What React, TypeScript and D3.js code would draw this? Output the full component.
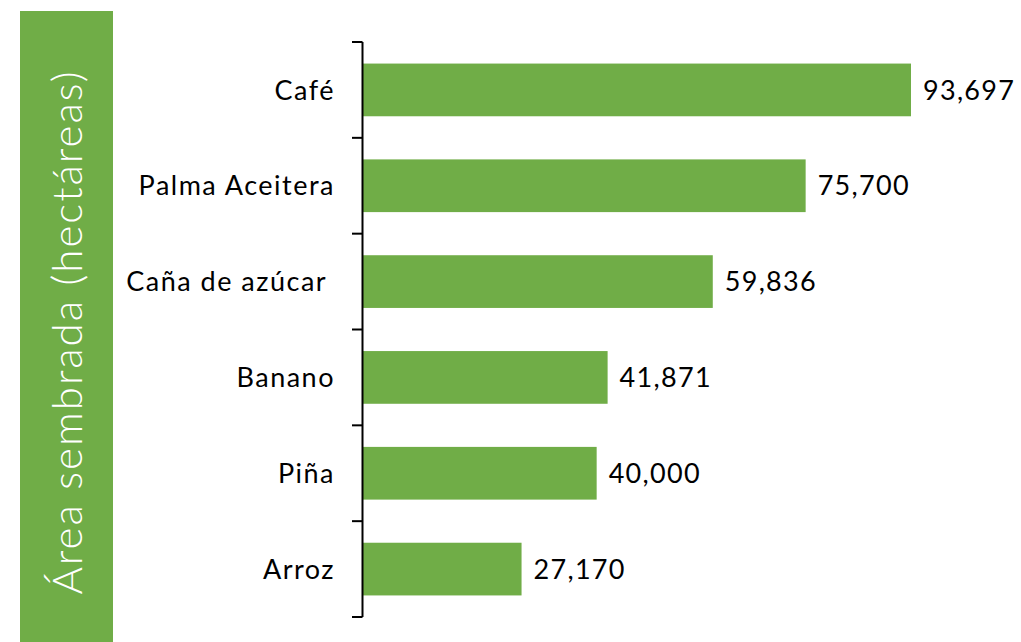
import React from "react";
import * as d3 from "d3";

const categories = ["Café", "Palma Aceitera", "Caña de azúcar ", "Banano", "Piña", "Arroz"];
const values = [93697, 75700, 59836, 41871, 40000, 27170];
const titleText = "Área sembrada (hectáreas)";

export default function App() {
  const W = 1021, H = 642;
  const axisX = 362.5;
  const y = d3.scaleBand<string>().domain(categories).range([42, 617]).paddingInner(0.45).paddingOuter(0.225);
  const x = d3.scaleLinear().domain([0, 93697]).range([axisX, 911]);
  const fmt = d3.format(",");
  const bounds = d3.range(categories.length + 1).map(i => 42 + (575 / categories.length) * i);
  return (
    <svg width={W} height={H} style={{ position: "absolute", left: 0, top: 0 }}>
      <rect x={20} y={11} width={93} height={H - 11} fill="#70AD47" />
      <text transform={`translate(${82},${332}) rotate(-90)`} textAnchor="middle" fill="#fff"
        fontFamily="Lato" fontWeight={300} fontSize={42} letterSpacing={2}>{titleText}</text>
      {categories.map((c, i) => (
        <g key={c}>
          <rect x={x(0)} y={y(c)!} width={x(values[i]) - x(0)} height={y.bandwidth()} fill="#70AD47" />
          <text x={x(values[i]) + 12} y={y(c)! + y.bandwidth() / 2} dy="0.36em" fontFamily="Lato" fontSize={27} letterSpacing={1.3} fill="#000">{fmt(values[i])}</text>
          <text x={335} y={y(c)! + y.bandwidth() / 2} dy="0.36em" textAnchor="end" fontFamily="Lato" fontSize={27} letterSpacing={1.5} fill="#000" style={{ whiteSpace: "pre" }}>{c}</text>
        </g>
      ))}
      <line x1={axisX} x2={axisX} y1={42} y2={617} stroke="#000" strokeWidth={2} />
      {bounds.map((b, i) => (
        <line key={i} x1={352} x2={axisX} y1={b} y2={b} stroke="#000" strokeWidth={2} />
      ))}
    </svg>
  );
}
